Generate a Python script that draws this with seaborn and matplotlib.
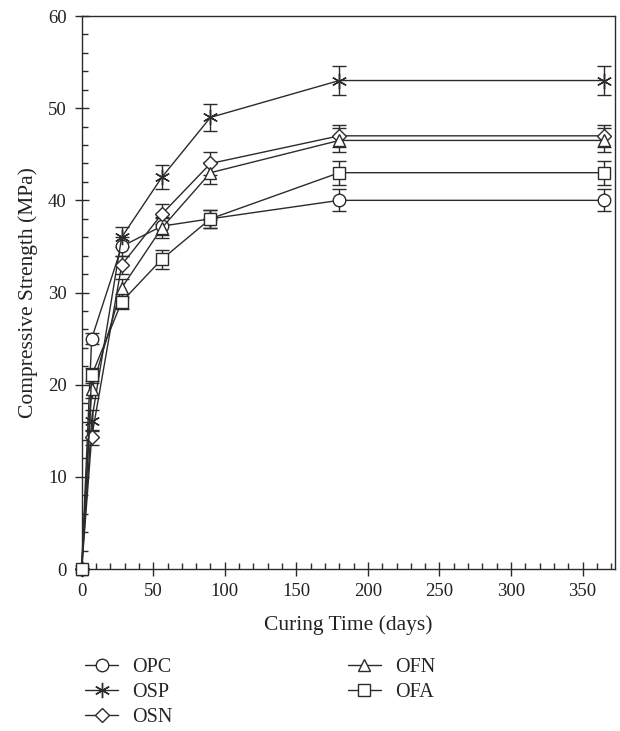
import pandas as pd
import numpy as np
import matplotlib
matplotlib.use("Agg")
import matplotlib.pyplot as plt
import seaborn as sns
from matplotlib.ticker import MultipleLocator

# data
days = [0, 7, 28, 56, 90, 180, 365]
series = ["OPC", "OSP", "OSN", "OFN", "OFA"]
opc = [0, 25.0, 35.0, 37.2, 38.0, 40.0, 40.0]
osp = [0, 16.1, 36.0, 42.5, 49.0, 53.0, 53.0]
osn = [0, 14.3, 33.0, 38.5, 44.0, 47.0, 47.0]
ofn = [0, 19.5, 30.5, 37.0, 43.0, 46.5, 46.5]
ofa = [0, 21.0, 29.0, 33.6, 38.0, 43.0, 43.0]
opc_err = [0, 0.6, 1.0, 1.0, 1.0, 1.2, 1.2]
osp_err = [0, 1.1, 1.1, 1.3, 1.5, 1.6, 1.6]
osn_err = [0, 0.8, 1.0, 1.1, 1.2, 1.2, 1.2]
ofn_err = [0, 0.9, 1.0, 1.1, 1.2, 1.3, 1.3]
ofa_err = [0, 0.8, 0.8, 1.0, 1.0, 1.3, 1.3]

values = [opc, osp, osn, ofn, ofa]
errors = [opc_err, osp_err, osn_err, ofn_err, ofa_err]

df = pd.DataFrame({
    "days": days * len(series),
    "strength": sum(values, []),
    "err": sum(errors, []),
    "mix": np.repeat(series, len(days)),
})

sns.set_style("ticks")
plt.rcParams["font.family"] = ["Liberation Serif", "DejaVu Serif"]

fig = plt.figure(figsize=(6.2, 7.31), dpi=100)
ax = fig.add_axes([0.1317, 0.2216, 0.861, 0.7565])

ink = "#2b2b2b"
txt = "#222222"
markers = {"OPC": "o", "OSP": (6, 2, 0), "OSN": "D", "OFN": "^", "OFA": "s"}
sizes = {"OPC": 9, "OSP": 11, "OSN": 7, "OFN": 9, "OFA": 9}

sns.lineplot(data=df, x="days", y="strength", hue="mix", hue_order=series,
             palette=[ink] * 5, legend=False, ax=ax, linewidth=1.0, zorder=3)

handles = list(ax.lines[:5])
for line, name in zip(handles, series):
    line.set_marker(markers[name])
    line.set_markersize(sizes[name])
    line.set_markerfacecolor("white")
    line.set_markeredgecolor(ink)
    line.set_markeredgewidth(1.0)
    line.set_clip_on(False)

for name in series:
    sub = df[df["mix"] == name]
    ax.errorbar(sub["days"], sub["strength"], yerr=sub["err"], fmt="none",
                ecolor=ink, elinewidth=1.0, capsize=5, capthick=1.0, zorder=2)

ax.set_xlim(0, 373)
ax.set_ylim(0, 60)
ax.xaxis.set_minor_locator(MultipleLocator(10))
ax.yaxis.set_major_locator(MultipleLocator(10))
ax.yaxis.set_minor_locator(MultipleLocator(2))
ax.set_xticks(np.arange(0, 351, 50))
ax.tick_params(which="major", direction="inout", length=9.5, width=1.0,
               color=ink, labelsize=13.5, labelcolor=txt)
ax.tick_params(axis="y", which="major", pad=6)
ax.tick_params(axis="x", which="major", pad=5)
ax.tick_params(which="minor", direction="in", length=4.5, width=1.0, color=ink)
for sp in ax.spines.values():
    sp.set_color(ink)
    sp.set_linewidth(1.0)

ax.set_xlabel("Curing Time (days)", fontsize=15.5, color=txt, labelpad=11)
ax.set_ylabel("Compressive Strength (MPa)", fontsize=15.5, color=txt, labelpad=7)

fig.legend(handles, series, loc="upper left", bbox_to_anchor=(0.137, 0.1),
           ncol=2, frameon=False, fontsize=14.5, handlelength=1.65,
           handletextpad=0.7, columnspacing=8.7, labelspacing=0.3,
           borderpad=0, borderaxespad=0)

fig.savefig("out.png", dpi=100)
